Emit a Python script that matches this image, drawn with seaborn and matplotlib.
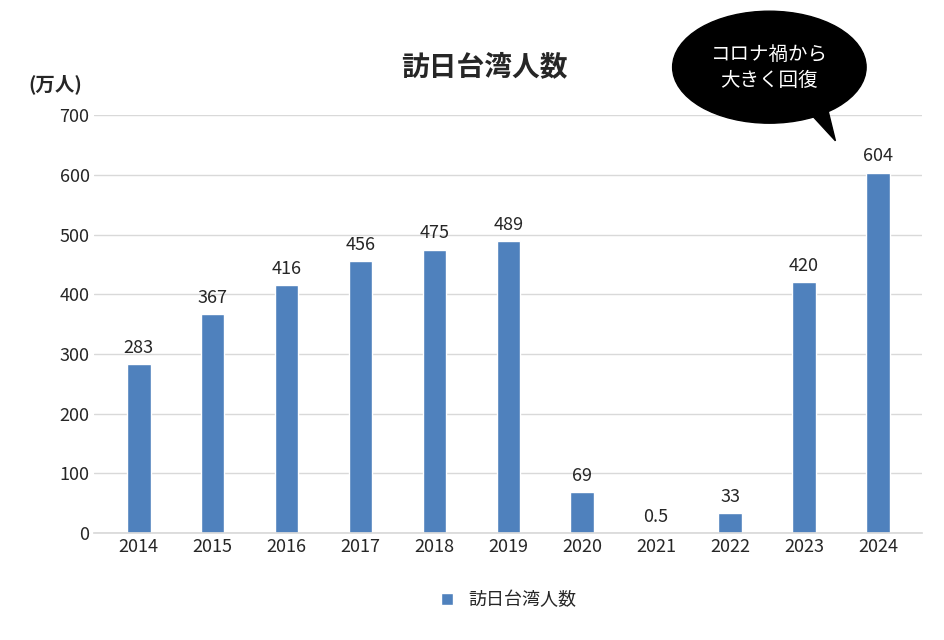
import matplotlib
matplotlib.use("Agg")
import matplotlib.pyplot as plt
import seaborn as sns
import pandas as pd
from matplotlib.patches import Ellipse, Polygon

years = ["2014", "2015", "2016", "2017", "2018", "2019", "2020", "2021", "2022", "2023", "2024"]
visitors = [283, 367, 416, 456, 475, 489, 69, 0.5, 33, 420, 604]
labels = ["283", "367", "416", "456", "475", "489", "69", "0.5", "33", "420", "604"]

sns.set_theme(style="white")
plt.rcParams["font.family"] = ["Noto Sans CJK JP", "DejaVu Sans"]

df = pd.DataFrame({"year": years, "value": visitors})
color = "#4f81bd"

fig = plt.figure(figsize=(9.44, 6.4), dpi=100)
ax = fig.add_axes([0.10, 0.167, 0.877, 0.653])
sns.barplot(data=df, x="year", y="value", color=color, width=0.32,
            saturation=1, ax=ax, label="訪日台湾人数")

for i, (v, t) in enumerate(zip(visitors, labels)):
    ax.text(i, v + 12, t, ha="center", va="bottom", fontsize=13)

ax.set_ylim(0, 700)
ax.set_yticks(range(0, 701, 100))
ax.set_xlim(-0.6, len(years) - 0.4)
ax.grid(axis="y", color="#d9d9d9", lw=1)
ax.set_axisbelow(True)
for s in ["top", "right", "left"]:
    ax.spines[s].set_visible(False)
ax.spines["bottom"].set_color("#d9d9d9")
ax.tick_params(axis="both", labelsize=13, length=0)
ax.set_xlabel("")
ax.set_ylabel("")

fig.text(0.513, 0.895, "訪日台湾人数", ha="center", va="center", fontsize=20, fontweight="bold")
fig.text(0.058, 0.868, "(万人)", ha="center", va="center", fontsize=14, fontweight="bold")

# callout bubble
fig.patches.append(Polygon([(0.835, 0.86), (0.875, 0.84), (0.885, 0.78)],
                           closed=True, transform=fig.transFigure, color="black"))
fig.patches.append(Ellipse((0.815, 0.895), 0.205, 0.175, transform=fig.transFigure, color="black"))
fig.text(0.815, 0.895, "コロナ禍から\n大きく回復", ha="center", va="center",
         fontsize=14, color="white", linespacing=1.3)

leg = ax.legend(loc="upper center", bbox_to_anchor=(0.5, -0.1), frameon=False,
                fontsize=13, handlelength=0.7, handleheight=0.7)

fig.savefig("out.png", dpi=100)
